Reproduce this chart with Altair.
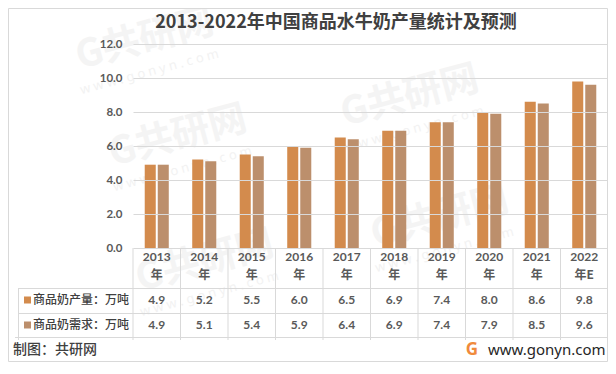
import altair as alt
import pandas as pd

years = ["2013", "2014", "2015", "2016", "2017", "2018", "2019", "2020", "2021", "2022"]
year_suffix = ["年", "年", "年", "年", "年", "年", "年", "年", "年", "年E"]
production = [4.9, 5.2, 5.5, 6.0, 6.5, 6.9, 7.4, 8.0, 8.6, 9.8]
demand = [4.9, 5.1, 5.4, 5.9, 6.4, 6.9, 7.4, 7.9, 8.5, 9.6]
series = ["商品奶产量：万吨", "商品奶需求：万吨"]
colors = ["#D38B4D", "#BC8F6C"]
y_ticks = [0, 2, 4, 6, 8, 10, 12]
title_text = "2013-2022年中国商品水牛奶产量统计及预测"
source_text = "制图：共研网"
site_text = "www.gonyn.com"
wm_main = "G共研网"
wm_sub = "w w w . g o n y n . c o m"

rows = []
for i, yr in enumerate(years):
    rows.append({"year": yr, "series": series[0], "value": production[i]})
    rows.append({"year": yr, "series": series[1], "value": demand[i]})
df = pd.DataFrame(rows)
df["label"] = df["value"].map(lambda v: f"{v:.1f}")
hdr = pd.DataFrame({"year": years, "suffix": year_suffix})
one = pd.DataFrame({"a": [0]})
# watermark anchor points (plot-relative pixels, decorative only)
wm = pd.DataFrame({"px": [12, 45, 277, 307, 72],
                   "py": [-4, 93, 53, 174, 218]})

W, H = 475, 204
CJK = "Noto Sans CJK SC"
NUM = "Lato"
GRID = "#d9d9d9"
TXT = "#595959"

xscale = alt.Scale(domain=years, paddingInner=0, paddingOuter=0)
cscale = alt.Scale(domain=series, range=colors)
X = alt.X("year:N", scale=xscale, axis=None, sort=years)
wx = alt.X("px:Q", scale=alt.Scale(domain=[0, W], range=[0, W], nice=False, zero=False), axis=None)
wy = alt.Y("py:Q", scale=alt.Scale(domain=[0, H], range=[0, H], nice=False, zero=False), axis=None)

wm1 = alt.Chart(wm).mark_text(font=CJK, fontSize=38, fontWeight="bold", color="#f4f4f4", angle=345).encode(
    x=wx, y=wy, text=alt.value(wm_main))
wm2 = alt.Chart(wm).mark_text(font="Noto Sans", fontSize=13, color="#f2f2f2", angle=345, dy=32, dx=-4).encode(
    x=wx, y=wy, text=alt.value(wm_sub))

bars = alt.Chart(df).mark_bar().encode(
    x=X,
    xOffset=alt.XOffset("series:N", sort=series,
                        scale=alt.Scale(domain=series, paddingInner=0.154, paddingOuter=0.9)),
    y=alt.Y("value:Q", scale=alt.Scale(domain=[0, 12], nice=False),
            axis=alt.Axis(values=y_ticks, format=".1f", title=None, domain=False, ticks=False,
                          grid=True, gridColor=GRID, gridWidth=1, labelPadding=11, zindex=1,
                          labelFontSize=11.5, labelFontWeight="bold", labelColor=TXT, labelFont=NUM)),
    color=alt.Color("series:N", scale=cscale, legend=None),
)

year_txt = alt.Chart(hdr).mark_text(font=NUM, fontSize=12, fontWeight="bold", color=TXT).encode(
    x=X, y=alt.value(213), text="year:N")
suf_txt = alt.Chart(hdr).mark_text(font=CJK, fontSize=12, fontWeight="bold", color=TXT).encode(
    x=X, y=alt.value(231), text="suffix:N")

val1 = alt.Chart(df).transform_filter(alt.datum.series == series[0]).mark_text(
    font=NUM, fontSize=12, fontWeight="bold", color=TXT).encode(x=X, y=alt.value(256), text="label:N")
val2 = alt.Chart(df).transform_filter(alt.datum.series == series[1]).mark_text(
    font=NUM, fontSize=12, fontWeight="bold", color=TXT).encode(x=X, y=alt.value(281), text="label:N")

vlines = alt.Chart(hdr).mark_rule(color=GRID, strokeWidth=1).encode(
    x=alt.X("year:N", scale=xscale, axis=None, sort=years, bandPosition=0),
    y=alt.value(204), y2=alt.value(296))
vright = alt.Chart(one).mark_rule(color=GRID).encode(x=alt.value(474.5), y=alt.value(204), y2=alt.value(296))
vleft = alt.Chart(one).mark_rule(color=GRID).encode(x=alt.value(-114.5), y=alt.value(244), y2=alt.value(296))
h1 = alt.Chart(one).mark_rule(color=GRID).encode(x=alt.value(-114.5), x2=alt.value(475), y=alt.value(244.5))
h2 = alt.Chart(one).mark_rule(color=GRID).encode(x=alt.value(-114.5), x2=alt.value(475), y=alt.value(269.5))
h3 = alt.Chart(one).mark_rule(color=GRID).encode(x=alt.value(-118), x2=alt.value(475), y=alt.value(293.5))

leg_layers = []
for s, c, yy in zip(series, colors, [256, 281]):
    leg_layers.append(alt.Chart(one).mark_square(size=49, opacity=1, color=c).encode(
        x=alt.value(-105.5), y=alt.value(yy)))
    leg_layers.append(alt.Chart(one).mark_text(font=CJK, fontSize=12, fontWeight=500, color="#404040",
                                               align="left").encode(
        x=alt.value(-100), y=alt.value(yy), text=alt.value(s)))

title = alt.Chart(one).mark_text(font=CJK, fontSize=18, fontWeight="bold", color="#404040").encode(
    x=alt.value(203), y=alt.value(-21), text=alt.value(title_text))
source = alt.Chart(one).mark_text(font=CJK, fontSize=14, fontWeight=500, color="#404040", align="left").encode(
    x=alt.value(-120), y=alt.value(306), text=alt.value(source_text))
site = alt.Chart(one).mark_text(font="Noto Sans", fontSize=15, color="#262626", align="left").encode(
    x=alt.value(355), y=alt.value(306), text=alt.value(site_text))
logo = alt.Chart(one).mark_text(font="Noto Sans", fontSize=17, fontWeight="bold", color="#F08A3C").encode(
    x=alt.value(339), y=alt.value(306), text=alt.value("G"))
border = alt.Chart(one).mark_rect(fill="white", fillOpacity=0, stroke=GRID, strokeWidth=1).encode(
    x=alt.value(-124.5), x2=alt.value(474.5), y=alt.value(-35.5), y2=alt.value(317.5))

chart = alt.layer(
    wm1, wm2, border, bars, vlines, vright, vleft, h1, h2, h3,
    year_txt, suf_txt, val1, val2, *leg_layers, title, source, logo, site
).resolve_scale(y="independent", x="independent").properties(
    width=W, height=H,
    autosize=alt.AutoSizeParams(type="none"),
    padding={"left": 125, "top": 36, "right": 0, "bottom": 114},
    background="white",
).configure_view(stroke=None)

chart.save("out.html", embed_options={"renderer": "svg", "actions": False})
